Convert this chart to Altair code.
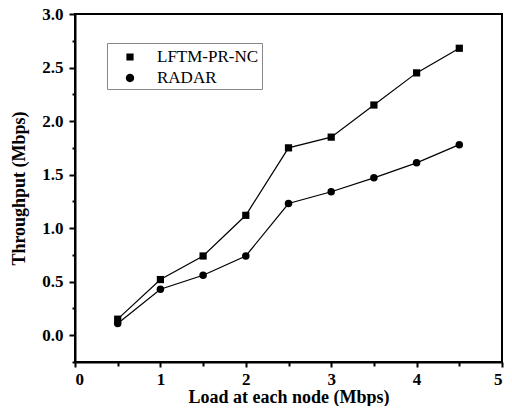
import altair as alt
import pandas as pd

loads = [0.5, 1.0, 1.5, 2.0, 2.5, 3.0, 3.5, 4.0, 4.5]
lftm = [0.15, 0.52, 0.74, 1.12, 1.75, 1.85, 2.15, 2.45, 2.68]
radar = [0.11, 0.43, 0.56, 0.74, 1.23, 1.34, 1.47, 1.61, 1.78]
series = ["LFTM-PR-NC", "RADAR"]

rows = []
for name, vals in zip(series, [lftm, radar]):
    for x, y in zip(loads, vals):
        rows.append({"load": x, "tp": y, "series": name})
df = pd.DataFrame(rows)

FONT = "Liberation Serif"
xvals = [i * 0.5 for i in range(0, 11)]
yvals = [-0.25 + i * 0.25 for i in range(0, 14)]

x = alt.X("load:Q", scale=alt.Scale(domain=[0, 5], nice=False, zero=False),
          axis=alt.Axis(values=xvals, title="Load at each node (Mbps)",
                        labelExpr="datum.value % 1 == 0 ? format(datum.value, 'd') : ''",
                        tickSize={"condition": {"test": "datum.value % 1 == 0", "value": 5}, "value": 4},
                        grid=False, labelPadding=4, titlePadding=1))
y = alt.Y("tp:Q", scale=alt.Scale(domain=[-0.25, 3.0], nice=False, zero=False),
          axis=alt.Axis(values=yvals, title="Throughput (Mbps)",
                        labelExpr="abs(datum.value % 0.5) < 0.001 ? format(datum.value, '.1f') : ''",
                        tickSize={"condition": {"test": "abs(datum.value % 0.5) < 0.001", "value": 6}, "value": 3},
                        grid=False, labelPadding=6, titlePadding=13))

lines = alt.Chart(df).mark_line(color="black", strokeWidth=1.2).encode(
    x=x, y=y, detail="series:N")

line_path = "M-1.9,0L1.9,0"
sq = "M-0.36,-0.36L0.36,-0.36L0.36,0.36L-0.36,0.36Z"
ci = "M0.42,0A0.42,0.42,0,1,1,-0.42,0A0.42,0.42,0,1,1,0.42,0Z"

ghost = alt.Chart(df).mark_point(filled=False, fill="black", stroke="black", strokeWidth=1.3,
                                 size=1, opacity=1).encode(
    x=x, y=y,
    shape=alt.Shape("series:N",
                    scale=alt.Scale(domain=series, range=[line_path + sq, line_path + ci]),
                    legend=alt.Legend(title=None, orient="none", legendX=32, legendY=29,
                                      symbolSize=400, symbolOffset=9,
                                      symbolStrokeColor="black", symbolFillColor="black",
                                      symbolStrokeWidth=1.3, symbolOpacity=1,
                                      labelFont=FONT, labelFontSize=17, labelColor="black",
                                      labelOffset=16, rowPadding=2, padding=3,
                                      strokeColor="#888888", fillColor="white")))

squares = alt.Chart(df).transform_filter(alt.datum.series == series[0]).mark_point(
    filled=True, color="black", shape="square", size=52, opacity=1).encode(x=x, y=y)
circles = alt.Chart(df).transform_filter(alt.datum.series == series[1]).mark_point(
    filled=True, color="black", shape="circle", size=56, opacity=1).encode(x=x, y=y)

chart = alt.layer(ghost, lines, squares, circles).properties(
    width=427, height=348,
    autosize=alt.AutoSizeParams(type="none"),
    padding={"left": 67, "top": 6, "right": 2, "bottom": 44},
).configure_view(stroke="black", strokeWidth=2).configure_axis(
    domainColor="black", domainWidth=2, tickColor="black", tickWidth=2,
    labelFont=FONT, labelFontSize=17, labelFontWeight="bold", labelColor="black",
    titleFont=FONT, titleFontSize=18, titleFontWeight="bold", titleColor="black",
)

chart.save("out.html", embed_options={"renderer": "svg", "actions": False})
